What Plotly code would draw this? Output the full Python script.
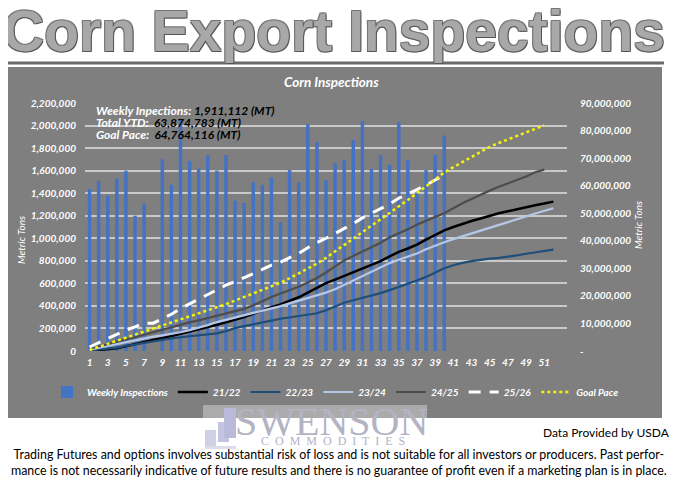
import plotly.graph_objects as go

# ---------------- data ----------------
weeks = list(range(1, 53))
odd_ticks = list(range(1, 52, 2))

# weekly inspections (MT), weeks 1..40 (week 8 not shown)
weekly = [1437000, 1510000, 1378000, 1530000, 1600000, 1200000, 1310000, None,
          1700000, 1475000, 2056000, 1687000, 1620000, 1737000, 1600000, 1737000,
          1334000, 1313000, 1496000, 1475000, 1540000, 1142000, 1605000, 1496000,
          2011000, 1855000, 1517000, 1667000, 1693000, 1870000, 2040000, 1614000,
          1737000, 1652000, 2032000, 1693000, 1407000, 1605000, 1740000, 1911112]

# cumulative series, million MT
s2122 = [0.0, 0.3, 0.6, 1.0, 1.7, 2.5, 3.3, 4.0, 4.6, 5.4, 6.1, 6.9, 7.7, 8.6, 9.5, 10.4,
         11.3, 12.3, 13.5, 14.8, 15.9, 16.9, 18.1, 19.5, 21.2, 23.0, 24.6, 25.9, 27.2, 28.6,
         30.0, 31.3, 32.6, 34.3, 36.0, 37.2, 38.6, 40.4, 42.2, 43.8, 45.0, 46.2, 47.2, 48.1,
         49.1, 50.0, 50.7, 51.5, 52.2, 52.9, 53.5, 54.2]
s2223 = [0.2, 0.5, 0.8, 1.2, 1.8, 2.4, 3.0, 3.6, 4.1, 4.6, 5.0, 5.3, 5.6, 6.0, 6.4, 7.2,
         8.3, 9.0, 9.6, 10.3, 11.0, 11.7, 12.2, 12.7, 13.2, 13.7, 14.8, 16.2, 17.5, 18.4,
         19.3, 20.0, 21.0, 22.1, 23.2, 24.3, 25.6, 26.9, 28.4, 30.0, 31.1, 32.0, 32.6, 33.1,
         33.5, 33.8, 34.2, 34.7, 35.3, 35.8, 36.3, 36.8]
s2324 = [0.5, 1.2, 1.8, 2.4, 3.2, 3.9, 4.6, 5.2, 5.7, 6.2, 6.8, 7.6, 8.4, 9.4, 10.5, 11.3,
         12.1, 13.0, 13.8, 14.6, 15.4, 16.3, 17.3, 18.3, 19.2, 20.1, 21.2, 22.4, 24.0, 25.6,
         27.3, 29.0, 30.4, 31.9, 33.1, 34.2, 35.4, 36.9, 38.3, 39.5, 40.6, 41.6, 42.8, 43.8,
         44.8, 45.7, 46.7, 47.7, 48.8, 49.9, 50.9, 51.8]
s2425 = [0.8, 1.6, 2.5, 3.3, 4.1, 5.0, 5.9, 6.8, 7.8, 8.8, 9.6, 10.4, 11.1, 11.9, 12.7, 13.6,
         14.5, 15.3, 16.6, 18.2, 19.6, 20.9, 22.0, 23.3, 24.9, 26.5, 28.5, 30.8, 32.9, 34.5,
         36.1, 37.7, 39.3, 41.3, 42.9, 44.2, 45.8, 47.3, 48.6, 50.0, 51.9, 53.6, 55.2, 56.8,
         58.2, 59.6, 60.9, 62.2, 63.3, 64.9, 65.8]
s2526 = [1.45, 2.98, 4.38, 5.93, 7.55, 8.77, 10.10, 10.10, 11.82, 13.32, 15.40, 17.11,
         18.75, 20.51, 22.13, 23.89, 25.24, 26.57, 28.09, 29.58, 31.14, 32.30, 33.93, 35.45,
         37.49, 39.37, 40.91, 42.60, 44.32, 46.22, 48.29, 49.93, 51.69, 53.37, 55.43, 57.15,
         58.58, 60.21, 61.98, 63.87]
goal = [0.4, 1.5, 2.6, 3.8, 4.9, 6.0, 7.1, 8.2, 9.3, 10.4, 11.5, 12.6, 13.7, 14.8, 15.9,
        17.0, 18.3, 19.6, 20.8, 22.1, 23.4, 24.8, 26.4, 28.1, 29.8, 31.7, 33.8, 36.1, 38.4,
        40.7, 43.0, 45.3, 47.6, 49.9, 52.3, 54.8, 57.3, 59.8, 62.3, 64.76, 66.7, 68.6, 70.5,
        72.4, 74.1, 75.5, 76.8, 78.1, 79.4, 80.6, 81.9]

total_ytd = 63874783
goal_pace = 64764116

left_ticks = list(range(0, 2200001, 200000))
right_ticks = list(range(0, 91, 10))
right_ticktext = ["-"] + ["{:,}".format(v * 1000000) for v in right_ticks[1:]]

# ---------------- geometry helpers ----------------
# the page body adds an 8px offset, so the figure is laid out 8px up/left
OFF = 8
L, R, T, B = 85, 567, 103, 351          # plot area in screen pixels
def px(x):
    return (x - L) / (R - L)
def py(y):
    return (B - y) / (B - T)

FONT = "Lato"
tickfont = dict(family=FONT, size=10, color="white", weight="bold", style="italic")

fig = go.Figure()
fig.add_bar(x=weeks[:len(weekly)], y=weekly, name="Weekly Inspections",
            marker=dict(color="#4472C4", line=dict(width=0)), yaxis="y")
fig.add_scatter(x=weeks[:len(s2122)], y=s2122, name="21/22", mode="lines",
                line=dict(color="#000000", width=2.5), yaxis="y2")
fig.add_scatter(x=weeks[:len(s2223)], y=s2223, name="22/23", mode="lines",
                line=dict(color="#1F4E79", width=2.2), yaxis="y2")
fig.add_scatter(x=weeks[:len(s2324)], y=s2324, name="23/24", mode="lines",
                line=dict(color="#B4C7E7", width=2.2), yaxis="y2")
fig.add_scatter(x=weeks[:len(s2425)], y=s2425, name="24/25", mode="lines",
                line=dict(color="#4D4D4D", width=2.2), yaxis="y2")
fig.add_scatter(x=weeks[:len(s2526)], y=s2526, name="25/26", mode="lines",
                line=dict(color="#FFFFFF", width=3, dash="12px,9px"), yaxis="y2")
fig.add_scatter(x=weeks[:len(goal)], y=goal, name="Goal Pace", mode="lines",
                line=dict(color="#F5F50A", width=2.5, dash="dot"), yaxis="y2")

shapes = [
    dict(type="rect", xref="paper", yref="paper", x0=px(0), x1=px(662), y0=py(418), y1=py(67),
         fillcolor="#7f7f7f", line=dict(width=0), layer="below"),
    dict(type="line", xref="paper", yref="paper", x0=px(0), x1=px(664), y0=py(63), y1=py(63),
         line=dict(color="#6a6a6a", width=3)),
    # logo backdrop + candlestick icon
    dict(type="rect", xref="paper", yref="paper", x0=px(203), x1=px(427), y0=py(418), y1=py(405),
         fillcolor="rgba(255,255,255,0.35)", line=dict(width=0)),
    dict(type="rect", xref="paper", yref="paper", x0=px(205), x1=px(216), y0=py(446), y1=py(430),
         fillcolor="#cfcfe6", line=dict(width=0)),
    dict(type="rect", xref="paper", yref="paper", x0=px(218), x1=px(229), y0=py(442), y1=py(422),
         fillcolor="#c4c4e0", line=dict(width=0)),
    dict(type="rect", xref="paper", yref="paper", x0=px(224), x1=px(236), y0=py(438), y1=py(408),
         fillcolor="#b9b9da", line=dict(width=0)),
    dict(type="rect", xref="paper", yref="paper", x0=px(205), x1=px(236), y0=py(449), y1=py(446),
         fillcolor="#dcdcea", line=dict(width=0)),
]

ann = [
    dict(text="<b>Corn Export Inspections</b>", x=px(334), y=py(31), xref="paper", yref="paper",
         showarrow=False, xanchor="center", yanchor="middle",
         font=dict(family="Liberation Sans, Arial", size=57, color="#a8a8a8",
                   shadow="1px 1px 0 #555, -1px -1px 0 #777, 1px -1px 0 #777, -1px 1px 0 #666")),
    dict(text="Corn Inspections", x=px(331), y=py(82), xref="paper", yref="paper",
         showarrow=False, xanchor="center", yanchor="middle",
         font=dict(family=FONT, size=13.5, color="white", weight="bold", style="italic")),
    dict(text="Weekly Inpections: <span style='color:#000'>{:,} (MT)</span>".format(weekly[-1]),
         x=px(94), y=py(110), xref="paper", yref="paper", showarrow=False,
         xanchor="left", yanchor="middle",
         font=dict(family=FONT, size=12, color="white", weight="bold", style="italic")),
    dict(text="Total YTD:  <span style='color:#000'>{:,} (MT)</span>".format(total_ytd),
         x=px(94), y=py(122), xref="paper", yref="paper", showarrow=False,
         xanchor="left", yanchor="middle",
         font=dict(family=FONT, size=12, color="white", weight="bold", style="italic")),
    dict(text="Goal Pace:  <span style='color:#000'>{:,} (MT)</span>".format(goal_pace),
         x=px(94), y=py(134), xref="paper", yref="paper", showarrow=False,
         xanchor="left", yanchor="middle",
         font=dict(family=FONT, size=12, color="white", weight="bold", style="italic")),
    dict(text="Metric Tons", x=px(21), y=py(240), xref="paper", yref="paper", showarrow=False,
         textangle=-90, xanchor="center", yanchor="middle",
         font=dict(family=FONT, size=10, color="white", style="italic")),
    dict(text="Metric Tons", x=px(638), y=py(225), xref="paper", yref="paper", showarrow=False,
         textangle=-90, xanchor="center", yanchor="middle",
         font=dict(family=FONT, size=10, color="white", style="italic")),
    dict(text="SWENSON", x=px(331), y=py(421), xref="paper", yref="paper", showarrow=False,
         xanchor="center", yanchor="middle",
         font=dict(family="Liberation Serif", size=40, color="#b3b3c4")),
    dict(text="C  O  M  M  O  D  I  T  I  E  S", x=px(333), y=py(441), xref="paper", yref="paper",
         showarrow=False, xanchor="center", yanchor="middle",
         font=dict(family="Liberation Serif", size=12, color="#b3b3c4")),
    dict(text="Data Provided by USDA", x=px(672), y=py(432), xref="paper", yref="paper",
         showarrow=False, xanchor="right", yanchor="middle",
         font=dict(family=FONT, size=12, color="black")),
    dict(text="Trading Futures and options involves substantial risk of loss and is not suitable for all investors or producers. Past perfor-<br>"
              "mance is not necessarily indicative of future results and there is no guarantee of profit even if a marketing plan is in place.",
         x=px(339), y=py(462), xref="paper", yref="paper", showarrow=False,
         xanchor="center", yanchor="middle", align="center",
         font=dict(family=FONT, size=12.4, color="black")),
]

fig.update_layout(
    width=680, height=496,
    margin=dict(l=L - OFF, r=680 - (R - OFF), t=T - OFF, b=496 - (B - OFF), pad=0),
    paper_bgcolor="white", plot_bgcolor="rgba(0,0,0,0)",
    bargap=0.62, showlegend=True,
    legend=dict(orientation="h", x=px(624), y=py(392), xanchor="right", yanchor="middle",
                bgcolor="rgba(0,0,0,0)", font=dict(family=FONT, size=10, color="white",
                                                   weight="bold", style="italic"),
                itemwidth=30, tracegroupgap=0),
    xaxis=dict(range=[0.5, 53.5], tickmode="array", tickvals=odd_ticks, showgrid=False,
               zeroline=False, showline=False, ticks="", tickfont=tickfont, ticklabelstandoff=4),
    yaxis=dict(range=[0, 2200000], tickmode="array", tickvals=left_ticks, tickformat=",d",
               showgrid=True, gridcolor="#c9c9c9", gridwidth=1.5, zeroline=False, showline=False,
               ticks="", tickfont=tickfont, ticklabelstandoff=8),
    yaxis2=dict(range=[0, 90], overlaying="y", side="right", tickmode="array",
                tickvals=right_ticks, ticktext=right_ticktext, showgrid=False, zeroline=False,
                showline=False, ticks="", tickfont=tickfont, ticklabelstandoff=12),
    shapes=shapes, annotations=ann,
)

fig.write_html("out.html")
